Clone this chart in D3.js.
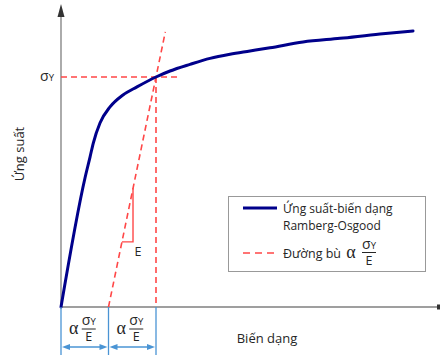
<!DOCTYPE html>
<html><head><meta charset="utf-8">
<script src="https://cdn.jsdelivr.net/npm/d3@7"></script>
<style>body{margin:0;background:#fff}svg{display:block}</style>
</head><body>
<script>
// Data (strain in units of alpha*sigmaY/E, stress in units of sigmaY)
const strain = [0, 0.505, 0.611, 0.680, 0.821, 1.032, 1.305, 1.600, 2.0, 2.295, 2.716, 3.137, 3.558, 3.979, 4.4, 5.095, 5.874, 6.716, 7.411];
const stress = [0, 0.561, 0.652, 0.713, 0.800, 0.870, 0.922, 0.957, 1.0, 1.026, 1.055, 1.081, 1.099, 1.113, 1.127, 1.152, 1.168, 1.187, 1.2];
const offsetStrain = [1, 2.196];
const offsetStress = [0, 1.196];
const yieldStrain = 2, yieldStress = 1, yieldLineEnd = 2.505;
const triStrain = [1.283, 1.516], triStress = [0.283, 0.516];
const dimTicks = [0, 1, 2];
const labels = {y: "Ứng suất", x: "Biến dạng", leg1a: "Ứng suất-biến dạng", leg1b: "Ramberg-Osgood", leg2: "Đường bù", E: "E"};

const W = 441, H = 355;
const x = d3.scaleLinear().domain([0, 8]).range([61, 441]);
const y = d3.scaleLinear().domain([0, 1.3]).range([307, 8]);

const svg = d3.select("body").append("svg").attr("width", W).attr("height", H);
const font = "'Open Sans', sans-serif";
const red = "#ff4747", navy = "#00008b", blue = "#4a94d4", gray = "#7f7f7f", ink = "#262626";

// axes
svg.append("line").attr("x1", x(0)).attr("x2", 438).attr("y1", y(0)).attr("y2", y(0)).attr("stroke", gray).attr("stroke-width", 1.3);
svg.append("rect").attr("x", 437).attr("y", y(0) - 2.5).attr("width", 3).attr("height", 5).attr("fill", "#333");
svg.append("line").attr("x1", x(0)).attr("x2", x(0)).attr("y1", y(0)).attr("y2", 14).attr("stroke", gray).attr("stroke-width", 1.3);
svg.append("path").attr("d", `M${x(0)},4 L${x(0)-3.5},17 L${x(0)+3.5},17 Z`).attr("fill", "#333");

// dashed yield lines
const dash = "6,4";
svg.append("line").attr("x1", x(0)).attr("x2", x(yieldLineEnd)).attr("y1", y(yieldStress)).attr("y2", y(yieldStress))
  .attr("stroke", red).attr("stroke-width", 1.6).attr("stroke-dasharray", dash);
svg.append("line").attr("x1", x(yieldStrain)).attr("x2", x(yieldStrain)).attr("y1", y(yieldStress)).attr("y2", y(0))
  .attr("stroke", red).attr("stroke-width", 1.6).attr("stroke-dasharray", dash);
svg.append("line").attr("x1", x(offsetStrain[0])).attr("x2", x(offsetStrain[1])).attr("y1", y(offsetStress[0])).attr("y2", y(offsetStress[1]))
  .attr("stroke", red).attr("stroke-width", 1.6).attr("stroke-dasharray", dash);
// slope triangle
svg.append("path").attr("d", `M${x(triStrain[0])},${y(triStress[0])} L${x(triStrain[1])},${y(triStress[0])} L${x(triStrain[1])},${y(triStress[1])}`)
  .attr("fill", "none").attr("stroke", red).attr("stroke-width", 1.4);
svg.append("text").attr("x", x(triStrain[1]) + 5).attr("y", y(triStress[0]) + 14).attr("text-anchor", "middle")
  .attr("font-family", font).attr("font-size", 12.5).attr("fill", ink).text(labels.E);

// curve
const line = d3.line().x((d, i) => x(strain[i])).y((d, i) => y(stress[i])).curve(d3.curveMonotoneX);
svg.append("path").datum(strain).attr("d", line).attr("fill", "none").attr("stroke", navy).attr("stroke-width", 3).attr("stroke-linecap", "round");

// sigma Y label
function sigmaY(g, cx, cy, anchor) {
  const t = g.append("text").attr("x", cx).attr("y", cy).attr("text-anchor", anchor).attr("font-family", font).attr("fill", ink);
  t.append("tspan").attr("font-size", 14).text("σ");
  t.append("tspan").attr("font-size", 9.5).text("Y");
  return t;
}
sigmaY(svg, 47, y(yieldStress) + 4, "middle");

// fraction alpha sigmaY / E
function fraction(g, ax, fx, barY) {
  g.append("text").attr("x", ax).attr("y", barY + 5).attr("text-anchor", "middle").attr("font-family", "'Liberation Serif', serif")
    .attr("font-size", 18).attr("fill", ink).text("α");
  sigmaY(g, fx, barY - 4, "middle");
  g.append("line").attr("x1", fx - 7).attr("x2", fx + 7).attr("y1", barY).attr("y2", barY).attr("stroke", ink).attr("stroke-width", 1);
  g.append("text").attr("x", fx).attr("y", barY + 12).attr("text-anchor", "middle").attr("font-family", font)
    .attr("font-size", 12.5).attr("fill", ink).text(labels.E);
}

// dimension lines
dimTicks.forEach(d => {
  svg.append("line").attr("x1", x(d)).attr("x2", x(d)).attr("y1", y(0)).attr("y2", H).attr("stroke", blue).attr("stroke-width", 1.3);
});
for (let i = 0; i < dimTicks.length - 1; i++) {
  const a = x(dimTicks[i]), b = x(dimTicks[i + 1]), ay = 347;
  svg.append("line").attr("x1", a + 6).attr("x2", b - 6).attr("y1", ay).attr("y2", ay).attr("stroke", blue).attr("stroke-width", 1.3);
  svg.append("path").attr("d", `M${a+1},${ay} L${a+9},${ay-3} L${a+9},${ay+3} Z`).attr("fill", blue);
  svg.append("path").attr("d", `M${b-1},${ay} L${b-9},${ay-3} L${b-9},${ay+3} Z`).attr("fill", blue);
  const m = (a + b) / 2;
  fraction(svg, m - 11, m + 4, 329);
}

// axis labels
svg.append("text").attr("transform", `translate(24,154) rotate(-90)`).attr("text-anchor", "middle")
  .attr("font-family", font).attr("font-size", 13).attr("fill", ink).text(labels.y);
svg.append("text").attr("x", 267).attr("y", 343).attr("text-anchor", "middle")
  .attr("font-family", font).attr("font-size", 13).attr("fill", ink).text(labels.x);

// legend
const lg = svg.append("g");
lg.append("rect").attr("x", 228.5).attr("y", 196.5).attr("width", 197).attr("height", 75).attr("fill", "#fff").attr("stroke", "#999").attr("stroke-width", 1);
lg.append("line").attr("x1", 243).attr("x2", 277).attr("y1", 208).attr("y2", 208).attr("stroke", navy).attr("stroke-width", 3);
lg.append("text").attr("x", 283).attr("y", 213).attr("font-family", font).attr("font-size", 12).attr("fill", ink).text(labels.leg1a);
lg.append("text").attr("x", 283).attr("y", 229.5).attr("font-family", font).attr("font-size", 12).attr("fill", ink).text(labels.leg1b);
lg.append("line").attr("x1", 243).attr("x2", 277).attr("y1", 253).attr("y2", 253).attr("stroke", red).attr("stroke-width", 1.6).attr("stroke-dasharray", "7,5");
lg.append("text").attr("x", 283).attr("y", 258).attr("font-family", font).attr("font-size", 12.5).attr("fill", ink).text(labels.leg2);
fraction(lg, 351, 369, 252.5);
</script>
</body></html>
